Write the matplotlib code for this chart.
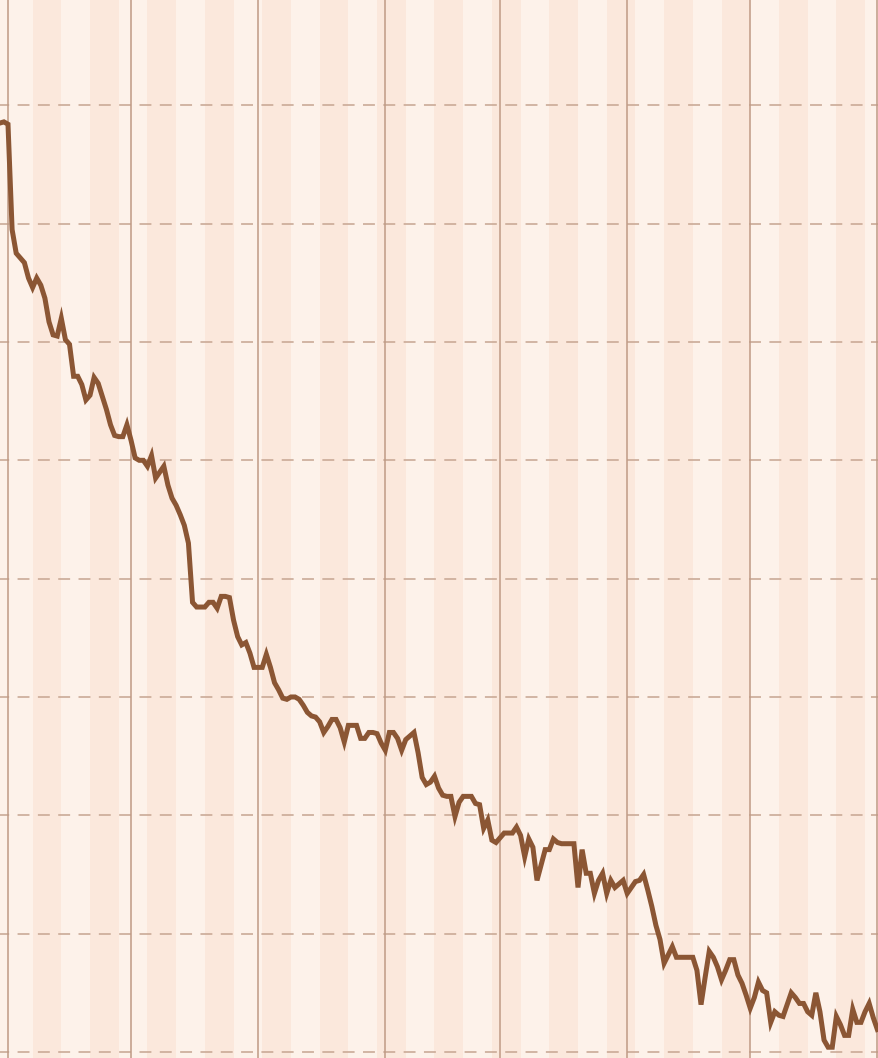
import matplotlib
matplotlib.use("Agg")
import matplotlib.pyplot as plt
import pandas as pd

# ---- data -------------------------------------------------------------
start_date = "2022-10-30"
values = [
    78.5, 78.6, 78.4, 69.5, 67.5, 67.1, 66.7, 65.4, 64.6, 65.4,
    64.8, 63.7, 61.7, 60.6, 60.5, 62.0, 60.2, 59.8, 57.1, 57.1,
    56.4, 55.1, 55.5, 57.0, 56.5, 55.4, 54.3, 53.0, 52.1, 52.0,
    52.0, 53.0, 51.7, 50.2, 50.0, 50.0, 49.5, 50.4, 48.5, 49.0,
    49.5, 47.9, 46.8, 46.2, 45.4, 44.5, 43.0, 38.0, 37.6, 37.6,
    37.6, 38.0, 38.0, 37.5, 38.5, 38.5, 38.4, 36.5, 35.1, 34.4,
    34.6, 33.7, 32.5, 32.5, 32.5, 33.6, 32.5, 31.2, 30.6, 29.9,
    29.8, 30.0, 30.0, 29.8, 29.3, 28.7, 28.4, 28.3, 27.9, 27.0,
    27.5, 28.1, 28.1, 27.4, 26.2, 27.6, 27.6, 27.6, 26.5, 26.5,
    27.0, 27.0, 26.9, 26.1, 25.5, 27.0, 27.0, 26.5, 25.5, 26.4,
    26.7, 27.0, 25.3, 23.2, 22.6, 22.8, 23.3, 22.3, 21.7, 21.6,
    21.6, 19.9, 21.1, 21.6, 21.6, 21.6, 21.0, 20.9, 18.9, 19.6,
    17.9, 17.7, 18.1, 18.5, 18.5, 18.5, 19.0, 18.3, 16.5, 18.0,
    17.3, 14.5, 15.8, 17.1, 17.1, 18.0, 17.7, 17.6, 17.6, 17.6,
    17.6, 13.9, 17.1, 15.1, 15.1, 13.4, 14.5, 15.1, 13.4, 14.5,
    13.9, 14.2, 14.5, 13.4, 13.9, 14.4, 14.5, 15.0, 13.7, 12.3,
    10.7, 9.5, 7.5, 8.2, 8.9, 8.0, 8.0, 8.0, 8.0, 8.0,
    6.9, 4.0, 6.3, 8.5, 8.0, 7.2, 6.1, 6.9, 7.8, 7.8,
    6.5, 5.8, 4.8, 3.7, 4.6, 5.9, 5.2, 5.0, 2.5, 3.4,
    3.1, 3.0, 4.0, 5.0, 4.6, 4.1, 4.1, 3.4, 3.1, 5.0,
    3.4, 1.0, 0.4, 0.4, 3.0, 2.3, 1.4, 1.4, 3.6, 2.5,
    2.5, 3.4, 4.1, 2.9, 1.9,
]
month_starts = ["2022-11-01", "2022-12-01", "2023-01-01", "2023-02-01",
                "2023-03-01", "2023-04-01", "2023-05-01", "2023-06-01"]
grid_values = [0, 10, 20, 30, 40, 50, 60, 70, 80]
stripe_first = "2022-11-07"
stripe_last = "2023-06-01"

# ---- style ------------------------------------------------------------
BG_LIGHT = "#FDF2EA"
BG_DARK = "#FBE8DC"
GRID_C = "#C6A591"
VLINE_C = "#BF9A85"
LINE_C = "#8B5634"

dates = pd.date_range(start_date, periods=len(values), freq="D")

fig = plt.figure(figsize=(8.79, 10.58), dpi=100)
fig.patch.set_facecolor(BG_LIGHT)
ax = fig.add_axes([0, 0, 1, 1])
ax.set_facecolor(BG_LIGHT)

for s in pd.date_range(stripe_first, stripe_last, freq="14D"):
    ax.axvspan(s, s + pd.Timedelta(days=7), color=BG_DARK, lw=0, zorder=0)

for g in grid_values:
    ax.axhline(g, color=GRID_C, lw=1.1, linestyle=(1.8, (7.8, 5.5)), zorder=1)

for m in month_starts:
    ax.axvline(pd.Timestamp(m), color=VLINE_C, lw=1.1, zorder=1.5)

ax.plot(dates, values, color=LINE_C, lw=3.6, solid_joinstyle="miter",
        zorder=3)

ax.set_xlim(pd.Timestamp("2022-11-01") - pd.Timedelta(days=1.95),
            pd.Timestamp("2022-11-01") + pd.Timedelta(days=212.4))
ax.set_ylim(-0.51, 88.9)
for sp in ax.spines.values():
    sp.set_visible(False)
ax.set_xticks([])
ax.set_yticks([])

fig.savefig("out.png", dpi=100, facecolor=BG_LIGHT)
